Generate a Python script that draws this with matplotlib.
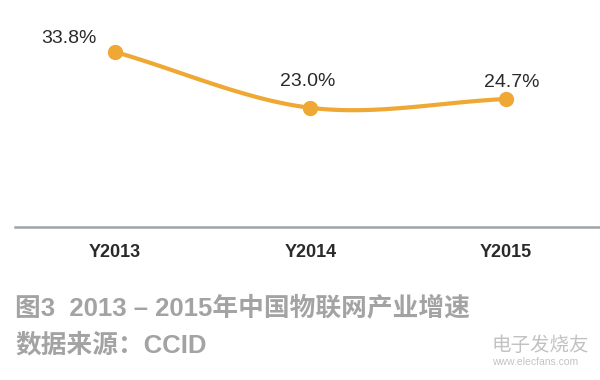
import matplotlib
matplotlib.use("Agg")
import matplotlib.pyplot as plt
import numpy as np

plt.rcParams['font.family'] = ['Liberation Sans', 'Noto Sans CJK SC', 'DejaVu Sans']

# 数据
years = ["Y2013", "Y2014", "Y2015"]
growth = [33.8, 23.0, 24.7]
labels = ["33.8%", "23.0%", "24.7%"]


def smooth(xs, ys, n=40):
    # Catmull-Rom 曲线, 只用于画平滑线
    xs = np.asarray(xs, float)
    ys = np.asarray(ys, float)
    px = np.concatenate([[2 * xs[0] - xs[1]], xs, [2 * xs[-1] - xs[-2]]])
    py = np.concatenate([[2 * ys[0] - ys[1]], ys, [2 * ys[-1] - ys[-2]]])
    outx, outy = [], []
    t = np.linspace(0, 1, n)
    for i in range(1, len(px) - 2):
        for p, out in ((px, outx), (py, outy)):
            p0, p1, p2, p3 = p[i - 1], p[i], p[i + 1], p[i + 2]
            out.extend(0.5 * ((2 * p1) + (-p0 + p2) * t
                              + (2 * p0 - 5 * p1 + 4 * p2 - p3) * t ** 2
                              + (-p0 + 3 * p1 - 3 * p2 + p3) * t ** 3))
    return outx, outy


fig = plt.figure(figsize=(6, 3.8), dpi=100)
ax = fig.add_axes([0.025, 0.4026, 0.975, 0.5974])

x = np.arange(len(years))
sx, sy = smooth(x, growth)
ax.plot(sx, sy, color="#eea833", lw=3, solid_capstyle="round")
ax.plot(x, growth, "o", color="#eea833", ms=10)

offsets = [(-0.235, 2.5), (-0.015, 5.0), (0.03, 3.1)]
for xi, yi, lab, (dx, dy) in zip(x, growth, labels, offsets):
    ax.text(xi + dx, yi + dy, lab, ha="center", va="center", fontsize=14, color="#2a2a2a")

ax.set_xlim(-0.51, 2.48)
ax.set_ylim(0, 43.8)
ax.set_xticks(x)
ax.set_xticklabels(years, fontsize=13, fontweight="bold", color="#2a2a2a")
ax.tick_params(axis="x", length=0, pad=12)
ax.set_yticks([])
for s in ["top", "left", "right"]:
    ax.spines[s].set_visible(False)
ax.spines["bottom"].set_color("#a0a4aa")
ax.spines["bottom"].set_linewidth(1.8)

cap_font = ["Liberation Sans", "Noto Sans CJK SC", "DejaVu Sans"]
fig.text(0.025, 0.19, "图3  2013 – 2015年中国物联网产业增速", fontsize=18.5, fontweight="bold",
         color="#a3a3a3", family=cap_font, va="center")
fig.text(0.025, 0.093, "数据来源：CCID", fontsize=18.5, fontweight="bold",
         color="#a3a3a3", family=cap_font, va="center")

# 水印
fig.text(0.82, 0.092, "电子发烧友", fontsize=14, color="#c2c2c2", style="italic",
         family=["Noto Sans CJK SC", "DejaVu Sans"], va="center")
fig.text(0.82, 0.047, "www.elecfans.com", fontsize=7.5, color="#c4c4c4", va="center")

fig.savefig("out.png", dpi=100)
